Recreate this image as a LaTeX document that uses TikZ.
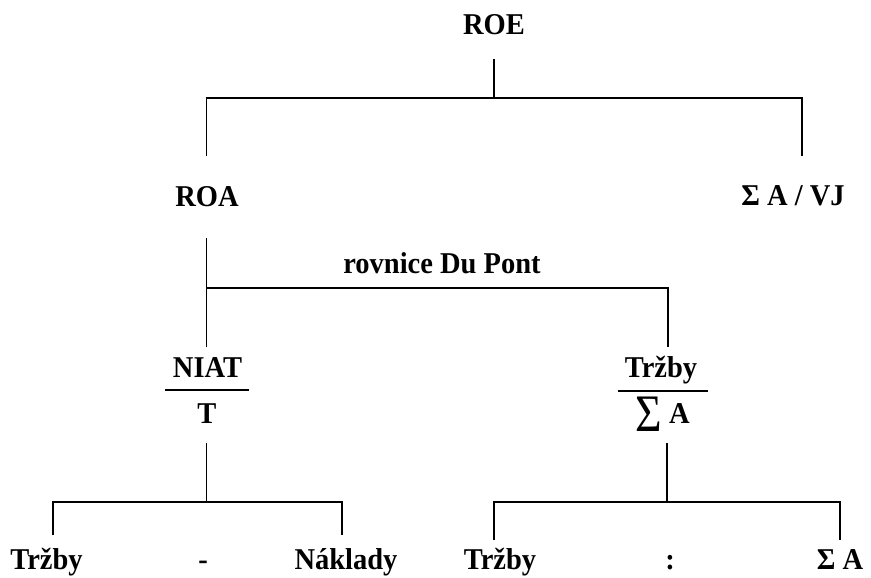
\documentclass[tikz,border=0pt]{standalone}
\usepackage{fontspec}
\setmainfont{Liberation Serif}
\usepackage{graphicx}
\newcommand{\vst}[1]{\scalebox{1}[1.06]{#1}}
\begin{document}
\begin{tikzpicture}[x=1pt,y=-1pt,
  lbl/.style={inner sep=0pt,anchor=base,font=\fontsize{28.5}{34}\selectfont\bfseries},
  conn/.style={line width=1.5pt,line cap=butt,line join=miter},
  fracline/.style={line width=1.5pt}]
\useasboundingbox (0,0) rectangle (871,578);
% texts
\node[lbl] (roe) at (494,35) {\vst{ROE}};
\node[lbl] (roa) at (207,206) {\vst{ROA}};
\node[lbl] (avj) at (793,205) {\vst{Σ A / VJ}};
\node[lbl] (dupont) at (442,273) {\vst{rovnice Du Pont}};
\node[lbl] (niat) at (207.5,377) {\vst{NIAT}};
\node[lbl] (tden) at (207,423) {\vst{T}};
\node[lbl] (trz) at (661,377) {\vst{Tržby}};
\node[inner sep=0pt,font=\fontsize{28.5}{34}\selectfont] (sig) at (649,414.5) {\scalebox{1.6}[1.85]{Σ}};
\node[lbl] (aden) at (679.5,423) {\vst{A}};
\node[lbl] (l1) at (46.5,569) {\vst{Tržby}};
\node[lbl] (lm) at (203,569) {\vst{-}};
\node[lbl] (l2) at (346,569) {\vst{Náklady}};
\node[lbl] (r1) at (500,569) {\vst{Tržby}};
\node[lbl] (rc) at (670,569) {\vst{:}};
\node[lbl] (r2) at (840,569) {\vst{Σ A}};
% coordinates
\coordinate (a1) at (494,59);
\coordinate (a2) at (494,98);
\coordinate (a3) at (206.5,156);
\coordinate (a4) at (802,156);
\coordinate (b1) at (206.5,238);
\coordinate (b2) at (206.5,347);
\coordinate (b3) at (206.5,288);
\coordinate (b4) at (668,347);
\coordinate (f1) at (165,390);
\coordinate (f2) at (249,390);
\coordinate (f3) at (618,391);
\coordinate (f4) at (708,391);
\coordinate (c1) at (206.5,443);
\coordinate (c2) at (206.5,502);
\coordinate (c3) at (53,535);
\coordinate (c4) at (342,535);
\coordinate (d1) at (667,443);
\coordinate (d2) at (667,502);
\coordinate (d3) at (494,540);
\coordinate (d4) at (840,540);
% connectors
\draw[conn] (a1) -- (a2);
\draw[conn] (a3) |- (a2) -| (a4);
\draw[conn] (b1) -- (b2);
\draw[conn] (b3) -| (b4);
\draw[fracline] (f1) -- (f2);
\draw[fracline] (f3) -- (f4);
\draw[conn] (c1) -- (c2);
\draw[conn] (c3) |- (c2) -| (c4);
\draw[conn] (d1) -- (d2);
\draw[conn] (d3) |- (d2) -| (d4);
\end{tikzpicture}
\end{document}
